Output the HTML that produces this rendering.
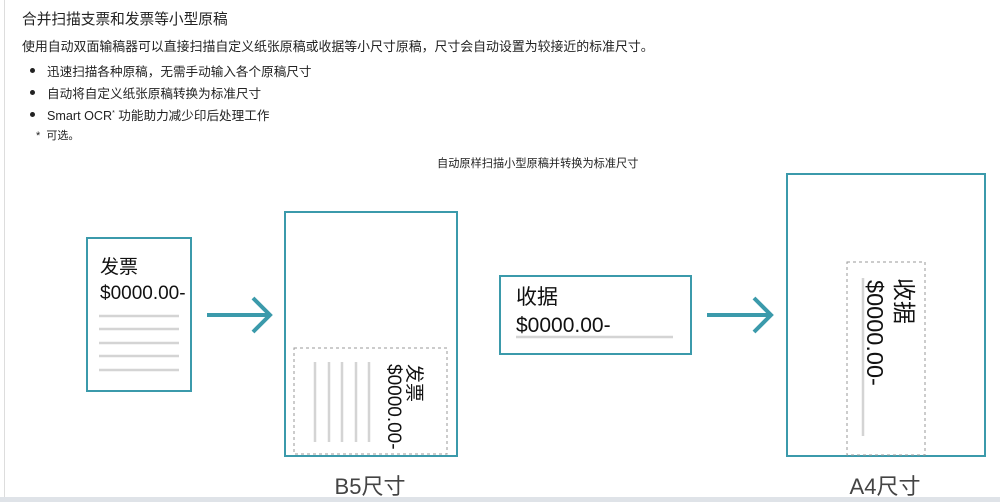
<!DOCTYPE html>
<html><head><meta charset="utf-8"><style>
body{margin:0;width:1000px;height:502px;background:#fff;overflow:hidden;position:relative;font-family:"Liberation Sans","Noto Sans CJK SC",sans-serif;color:#222}
.t{position:absolute;white-space:nowrap}
.b{position:absolute;width:5px;height:5px;border-radius:50%;background:#222;left:30px}
</style></head><body>
<div style="position:absolute;left:4px;top:0;width:1px;height:497px;background:#ddd"></div>
<div style="position:absolute;left:0;top:497px;width:1000px;height:5px;background:#dfe3e8"></div>
<div class="t" style="left:22px;top:8px;font-size:14.7px">合并扫描支票和发票等小型原稿</div>
<div class="t" style="left:22px;top:36px;font-size:12.9px">使用自动双面输稿器可以直接扫描自定义纸张原稿或收据等小尺寸原稿，尺寸会自动设置为较接近的标准尺寸。</div>
<div class="b" style="top:68px"></div><div class="t" style="left:47px;top:61px;font-size:12.6px">迅速扫描各种原稿，无需手动输入各个原稿尺寸</div>
<div class="b" style="top:90px"></div><div class="t" style="left:47px;top:83px;font-size:12.6px">自动将自定义纸张原稿转换为标准尺寸</div>
<div class="b" style="top:112px"></div><div class="t" style="left:47px;top:105px;font-size:12.6px">Smart OCR<sup style="font-size:7px">*</sup> 功能助力减少印后处理工作</div>
<div class="t" style="left:36px;top:127px;font-size:11px">*&nbsp;&nbsp;可选。</div>
<div class="t" style="left:437px;top:155px;font-size:11.2px">自动原样扫描小型原稿并转换为标准尺寸</div>
<svg width="1000" height="502" style="position:absolute;left:0;top:0" font-family="Liberation Sans, Noto Sans CJK SC, sans-serif">
<g fill="none" stroke="#3b9aab" stroke-width="2">
<rect x="87" y="238" width="104" height="153"/>
<rect x="285" y="212" width="172" height="244"/>
<rect x="500" y="276" width="191" height="78"/>
<rect x="787" y="174" width="198" height="282"/>
</g>
<g stroke="#3b9aab" stroke-width="4" fill="none">
<line x1="207" y1="315" x2="270" y2="315"/><polyline points="253,298 270,315 253,332"/>
<line x1="707" y1="315" x2="771" y2="315"/><polyline points="754,298 771,315 754,332"/>
</g>
<g stroke="#d4d4d4" stroke-width="2.5">
<line x1="99" y1="316" x2="179" y2="316"/><line x1="99" y1="329" x2="179" y2="329"/><line x1="99" y1="343" x2="179" y2="343"/><line x1="99" y1="356" x2="179" y2="356"/><line x1="99" y1="370" x2="179" y2="370"/>
<line x1="315" y1="362" x2="315" y2="442"/><line x1="329" y1="362" x2="329" y2="442"/><line x1="342" y1="362" x2="342" y2="442"/><line x1="356" y1="362" x2="356" y2="442"/><line x1="369" y1="362" x2="369" y2="442"/>
<line x1="516" y1="337" x2="673" y2="337"/>
<line x1="863" y1="278" x2="863" y2="436"/>
</g>
<g fill="none" stroke="#999" stroke-width="1" stroke-dasharray="3,3">
<rect x="294" y="348" width="153" height="106"/>
<rect x="847" y="262" width="78" height="193"/>
</g>
<g fill="#111">
<text x="100" y="273" font-size="19">发票</text>
<text x="100" y="299" font-size="19">$0000.00-</text>
<text transform="translate(408,364) rotate(90)" font-size="19">发票</text>
<text transform="translate(388,364) rotate(90)" font-size="19">$0000.00-</text>
<text x="516" y="304" font-size="21">收据</text>
<text x="516" y="332" font-size="21">$0000.00-</text>
<text transform="translate(896,278) rotate(90)" font-size="23">收据</text>
<text transform="translate(867,280) rotate(90)" font-size="23.5">$0000.00-</text>
</g>
<text x="370" y="494" font-size="22" fill="#444" text-anchor="middle">B5尺寸</text>
<text x="885" y="494" font-size="22" fill="#444" text-anchor="middle">A4尺寸</text>
</svg>
</body></html>
